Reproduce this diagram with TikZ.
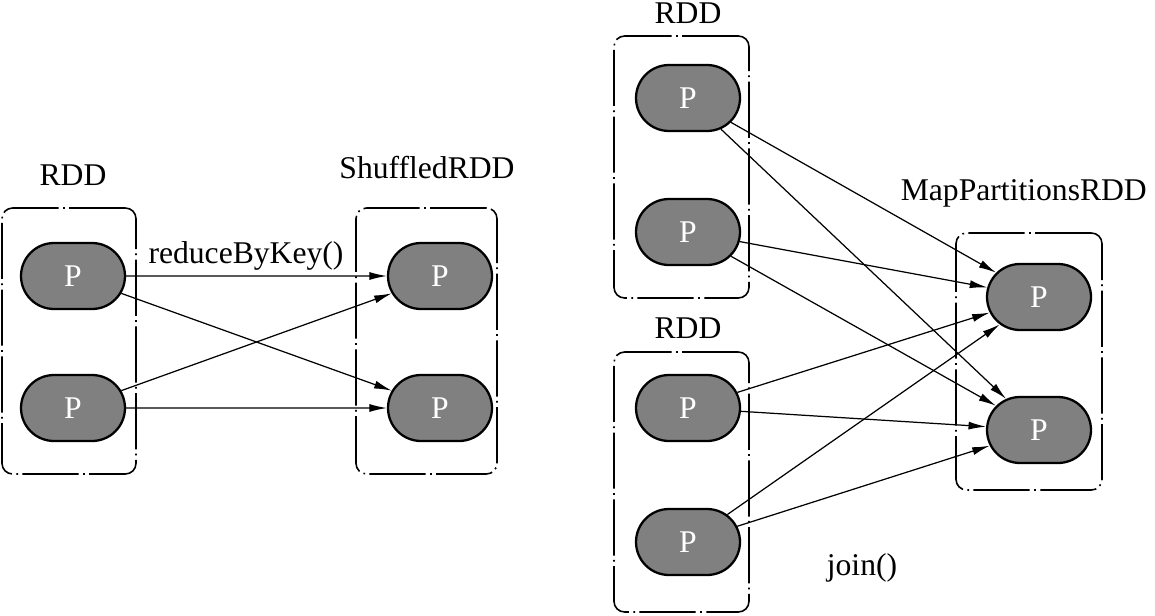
\documentclass[tikz,border=0pt]{standalone}
\usepackage{fontspec}
\setmainfont{Liberation Serif}
\usetikzlibrary{arrows.meta,shapes.misc}

\begin{document}
\begin{tikzpicture}[
    x=0.02cm, y=-0.02cm,
    part/.style={rounded rectangle, draw, line width=1.3pt, fill=black!50, text=white, minimum width=2.08cm, minimum height=1.32cm, inner sep=0pt, font=\fontsize{18}{21}\selectfont},
    group/.style={draw, rounded corners=6pt, line width=0.9pt, dash pattern=on 32pt off 2.5pt on 1pt off 2.5pt, inner sep=0pt},
    title/.style={font=\fontsize{18}{21}\selectfont},
    link/.style={-{Latex[length=3.5mm,width=1.6mm]}, line width=0.7pt}
]
\useasboundingbox (0,0) rectangle (1155,615);
% containers
\node[group, minimum width=2.68cm, minimum height=5.32cm] (rddA) at (69,341) {};
\node[group, minimum width=2.82cm, minimum height=5.32cm] (shuf) at (426.5,341) {};
\node[group, minimum width=2.70cm, minimum height=5.24cm] (rddB) at (681.5,167) {};
\node[group, minimum width=2.70cm, minimum height=5.20cm] (rddC) at (681.5,482) {};
\node[group, minimum width=2.92cm, minimum height=5.14cm] (mapp) at (1029,361.5) {};
% titles
\node[title] (tA) at (73,175) {RDD};
\node[title] (tS) at (427,168) {ShuffledRDD};
\node[title] (tB) at (688,13) {RDD};
\node[title] (tC) at (688,328) {RDD};
\node[title, anchor=east] (tM) at (1153,193) {MapPartitionsRDD};
% partitions
\node[part] (a1) at (73,276) {P};
\node[part] (a2) at (73,408) {P};
\node[part] (s1) at (440,276) {P};
\node[part] (s2) at (440,408) {P};
\node[part] (b1) at (688,98) {P};
\node[part] (b2) at (688,232) {P};
\node[part] (c1) at (688,408) {P};
\node[part] (c2) at (688,542) {P};
\node[part] (m1) at (1039,297) {P};
\node[part] (m2) at (1039,430) {P};
% operations
\node[title] (reduce) at (246,256) {reduceByKey()};
\node[title] (join) at (862,568) {join()};
% shuffle links
\draw[link] (a1) -- (s1);
\draw[link] (a1) -- (s2);
\draw[link] (a2) -- (s1);
\draw[link] (a2) -- (s2);
% join links
\foreach \src in {b1,b2,c1,c2}
  \foreach \dst in {m1,m2}
    \draw[link] (\src) -- (\dst);
\end{tikzpicture}
\end{document}
